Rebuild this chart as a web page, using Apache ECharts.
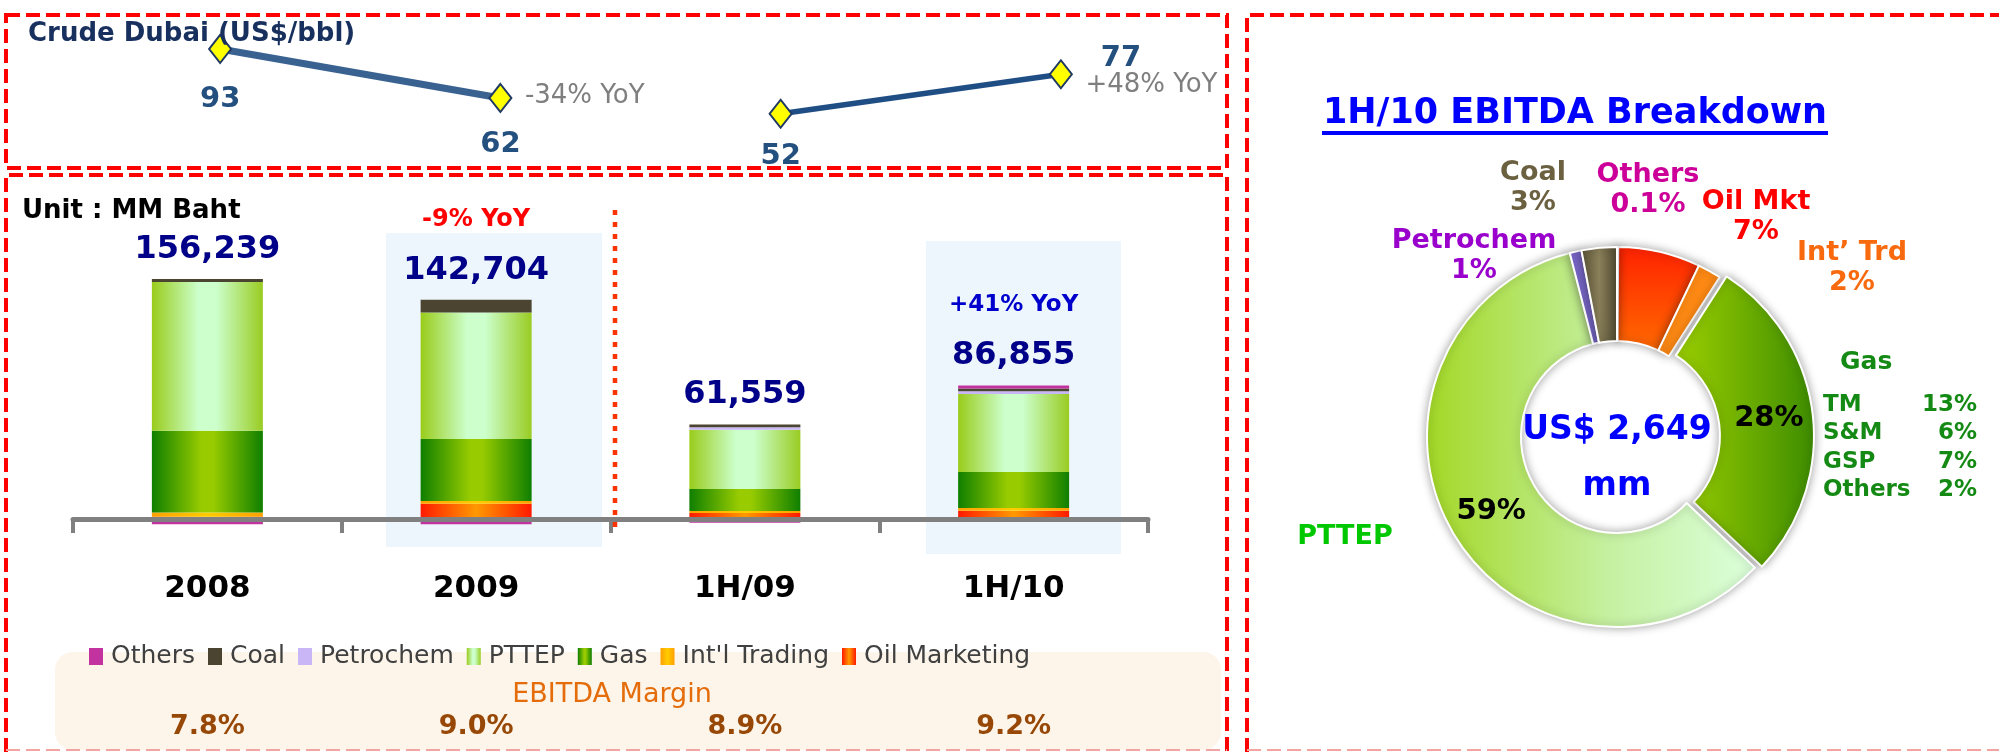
<!DOCTYPE html>
<html><head><meta charset="utf-8">
<script src="https://cdn.jsdelivr.net/npm/echarts@6/dist/echarts.min.js"></script>
<style>html,body{margin:0;padding:0;background:#fff}#c{width:1999px;height:752px}</style>
</head><body><div id="c"></div>
<script>
// ---------- DATA ----------
const categories = ['2008', '2009', '1H/09', '1H/10'];
const oilMarketing = [1500, 9960, 3959, 5400];
const intlTrading = [2800, 1750, 1300, 1750];
const gasEbitda = [53200, 40360, 14300, 23440];
const pttepEbitda = [96800, 82384, 38600, 50815];
const petrochem = [0, 0, 1500, 1750];
const coal = [1939, 8250, 1900, 1750];
const othersEbitda = [-3500, -3500, -2500, 1950];
const totals = [156239, 142704, 61559, 86855];
const totalYoY = ['', '-9% YoY', '', '+41% YoY'];
const ebitdaMargin = ['7.8%', '9.0%', '8.9%', '9.2%'];
const crudeDubai = [93, 62, 52, 77];
const crudeYoY = ['', '-34% YoY', '', '+48% YoY'];
const pieNames = ['Others', 'Oil Mkt', 'Int\u2019 Trd', 'Gas', 'PTTEP', 'Petrochem', 'Coal'];
const pieValues = [0.1, 7, 2, 28, 59, 1, 3];
const pieTotalText = 'US$ 2,649';
const pieTotalUnit = 'mm';
const gasSubNames = ['TM', 'S&M', 'GSP', 'Others'];
const gasSubValues = [13, 6, 7, 2];

// ---------- STYLE ----------
const F = 'DejaVu Sans';
function grad(dir, stops) {
  return { type: 'linear', x: 0, y: 0, x2: dir === 'h' ? 1 : 0, y2: dir === 'h' ? 0 : 1,
    colorStops: stops.map(s => ({ offset: s[0], color: s[1] })) };
}
const barDefs = [
  { name: 'Oil Marketing', data: oilMarketing, color: grad('h', [[0, '#ff1a00'], [0.5, '#ff9900'], [1, '#ff1a00']]) },
  { name: "Int'l Trading", data: intlTrading, color: grad('h', [[0, '#ffa000'], [0.5, '#ffcc00'], [1, '#ffa000']]) },
  { name: 'Gas', data: gasEbitda, color: grad('h', [[0, '#0f7f00'], [0.45, '#99cc00'], [0.55, '#99cc00'], [1, '#0f7f00']]) },
  { name: 'PTTEP', data: pttepEbitda, color: grad('h', [[0, '#99cc1a'], [0.42, '#ccffcc'], [0.58, '#ccffcc'], [1, '#99cc22']]) },
  { name: 'Petrochem', data: petrochem, color: '#c9b6f7' },
  { name: 'Coal', data: coal, color: '#4b4430' },
  { name: 'Others', data: othersEbitda, color: '#c2339f' }
];
const legendOrder = ['Others', 'Coal', 'Petrochem', 'PTTEP', 'Gas', "Int'l Trading", 'Oil Marketing'];

const crudeLabelStyle = [
  { position: 'bottom', distance: 21 },
  { position: 'bottom', distance: 17 },
  { position: 'bottom', distance: 13 },
  { position: 'right', distance: 28, offset: [0, -16] }
];
const crudeYoYOffset = [[0, 0], [0, -2], [0, 0], [0, 11]];

const pieColors = [
  '#cc3399',
  grad('v', [[0, '#ff2200'], [1, '#ff6a00']]),
  '#ff8a14',
  grad('h', [[0, '#9ccf00'], [1, '#3d8c00']]),
  grad('h', [[0, '#a3d826'], [0.55, '#c5f0a0'], [1, '#dcffdc']]),
  '#7d6bd0',
  grad('h', [[0, '#5a5236'], [0.5, '#8a805a'], [1, '#4e4830']])
];
const pieLabelColors = ['#cc0099', '#ff0000', '#f86a0d', '#148a14', '#00c800', '#9900cc', '#6b6040'];
const pieLabelPos = [[1648, 190], [1756, 217], [1852, 268], [1823, 419, 'left'], [1345, 537], [1474, 256], [1533, 188]];
const pieInsideLabel = { 'Gas': { show: true, offset: [8, -32] }, 'PTTEP': { show: true } };

// ---------- CHART ----------
const chart = echarts.init(document.getElementById('c'), null, { renderer: 'canvas' });

const series = [];
barDefs.forEach(d => series.push({
  name: d.name, type: 'bar', stack: 'ebitda', xAxisIndex: 0, yAxisIndex: 0,
  barWidth: 111, data: d.data, itemStyle: { color: d.color }, z: 2, silent: true
}));
series.push({
  type: 'scatter', xAxisIndex: 0, yAxisIndex: 0, data: totals, symbolSize: 1,
  itemStyle: { color: 'rgba(255,255,255,0)', opacity: 1 }, silent: true, z: 6,
  label: {
    show: true, position: 'top', distance: 9, color: '#000088', textBorderWidth: 0,
    formatter: p => {
      const y = totalYoY[p.dataIndex];
      const head = y ? '{' + (y[0] === '-' ? 'neg' : 'pos') + '|' + y + '}\n' : '';
      return head + '{tot|' + p.value.toLocaleString('en-US') + '}';
    },
    rich: {
      tot: { fontFamily: F, fontSize: 32, fontWeight: 'bold', color: '#000088', lineHeight: 40, textBorderWidth: 0 },
      neg: { fontFamily: F, fontSize: 24, fontWeight: 'bold', color: '#ff0000', lineHeight: 62, textBorderWidth: 0 },
      pos: { fontFamily: F, fontSize: 23, fontWeight: 'bold', color: '#0000cc', lineHeight: 62, textBorderWidth: 0 }
    }
  }
});
// crude line (two separate segments)
const crudeLine = (keep, color, width) => ({
  type: 'line', xAxisIndex: 2, yAxisIndex: 1, silent: true, z: 5,
  data: crudeDubai.map((v, i) => keep(i) ? { value: v, label: crudeLabelStyle[i] } : '-'),
  symbol: 'diamond', symbolSize: [22, 28],
  itemStyle: { color: '#ffff00', borderColor: '#1f3864', borderWidth: 2 },
  lineStyle: { color: color, width: width },
  label: { show: true, fontFamily: F, fontSize: 29, fontWeight: 'bold', color: '#24507f' }
});
series.push(crudeLine(i => i < 2, '#3a6291', 7));
series.push(crudeLine(i => i >= 2, '#1f4e85', 5.5));
series.push({
  type: 'scatter', xAxisIndex: 2, yAxisIndex: 1, symbolSize: 1, silent: true, z: 6,
  itemStyle: { color: 'rgba(255,255,255,0)', opacity: 1 },
  data: crudeDubai.map((v, i) => crudeYoY[i] ? { value: v, label: { offset: crudeYoYOffset[i] } } : '-'),
  label: { show: true, position: 'right', distance: 24, formatter: p => crudeYoY[p.dataIndex],
    fontFamily: F, fontSize: 26, color: '#7f7f7f' }
});
// pie (slices + inside labels)
series.push({
  type: 'pie', center: [1617, 437], radius: [96, 190], startAngle: 90, clockwise: true,
  avoidLabelOverlap: false, selectedMode: 'single', selectedOffset: 7, silent: true, z: 3,
  data: pieNames.map((n, i) => ({
    name: n, value: pieValues[i], selected: n === 'Gas',
    itemStyle: { color: pieColors[i] },
    label: pieInsideLabel[n] || { show: false }
  })),
  label: { show: false, position: 'inside', formatter: p => p.value + '%',
    fontFamily: F, fontSize: 29, fontWeight: 'bold', color: '#000' },
  labelLine: { show: false },
  itemStyle: { borderColor: '#ffffff', borderWidth: 2, shadowBlur: 10, shadowColor: 'rgba(0,0,0,0.35)' },
  emphasis: { disabled: true }
});
// pie outer labels
series.push({
  type: 'pie', center: [1617, 437], radius: [96, 190], startAngle: 90, clockwise: true,
  avoidLabelOverlap: false, silent: true, z: 4,
  data: pieNames.map((n, i) => ({ name: n, value: pieValues[i], label: { color: pieLabelColors[i] } })),
  itemStyle: { color: 'rgba(0,0,0,0)' },
  label: {
    show: true, position: 'outside', fontFamily: F, fontSize: 27, fontWeight: 'bold', lineHeight: 30,
    formatter: p => {
      if (p.name === 'PTTEP') return p.name;
      if (p.name === 'Gas') {
        return '{g|Gas}\n' + gasSubNames.map((s, k) => '{n|' + s + '}{v|' + gasSubValues[k] + '%}').join('\n');
      }
      return p.name + '\n' + p.value + '%';
    },
    rich: {
      g: { fontFamily: F, fontSize: 25, fontWeight: 'bold', color: '#148a14', lineHeight: 57, padding: [0, 0, 0, 17] },
      n: { fontFamily: F, fontSize: 23, fontWeight: 'bold', color: '#148a14', lineHeight: 28.5, width: 100, align: 'left' },
      v: { fontFamily: F, fontSize: 23, fontWeight: 'bold', color: '#148a14', lineHeight: 28.5, width: 54, align: 'right' }
    }
  },
  labelLine: { show: false },
  labelLayout: params => {
    const p = pieLabelPos[params.dataIndex];
    return { x: p[0], y: p[1], align: p[2] || 'center', verticalAlign: 'middle' };
  },
  emphasis: { disabled: true }
});

const dashRed = { stroke: '#ff0000', lineWidth: 4, lineDash: [14, 6], fill: null };
const paleBottom = { stroke: '#f4a3a3', lineWidth: 2, lineDash: [14, 6], fill: null };
const txt = (x, y, text, size, color, weight, align) => ({
  type: 'text', x: x, y: y, z: 20,
  style: { text: text, fontFamily: F, fontSize: size, fontWeight: weight || 'normal', fill: color,
    align: align || 'left', verticalAlign: 'middle' }
});

chart.setOption({
  animation: false,
  backgroundColor: '#ffffff',
  grid: [
    { left: 73, width: 1075, top: 242.5, height: 307.2, outerBoundsMode: 'none' },
    { left: 80, width: 1121, top: 37.9, height: 94.8, outerBoundsMode: 'none' }
  ],
  xAxis: [
    { type: 'category', gridIndex: 0, data: categories, z: 4,
      axisLine: { onZero: true, lineStyle: { color: '#808080', width: 5 } },
      axisTick: { show: true, length: 14, lineStyle: { color: '#808080', width: 4 } },
      axisLabel: { margin: 24, interval: 0, fontFamily: F, fontSize: 31, fontWeight: 'bold', color: '#000' } },
    { type: 'category', gridIndex: 0, data: ebitdaMargin, position: 'bottom',
      axisLine: { show: false, onZero: false }, axisTick: { show: false },
      axisLabel: { margin: 164, interval: 0, fontFamily: F, fontSize: 27, fontWeight: 'bold', color: '#984806' } },
    { type: 'category', gridIndex: 1, data: categories, show: false }
  ],
  yAxis: [
    { type: 'value', gridIndex: 0, min: -20000, max: 180000, show: false, splitLine: { show: false } },
    { type: 'value', gridIndex: 1, min: 40, max: 100, show: false, splitLine: { show: false } }
  ],
  legend: {
    data: legendOrder, left: 89, top: 644, padding: 0, itemWidth: 14, itemHeight: 17, itemGap: 13,
    icon: 'rect', selectedMode: false, z: 8,
    textStyle: { fontFamily: F, fontSize: 25, color: '#404040', padding: [0, 0, 0, 3] }
  },
  graphic: [
    { type: 'rect', z: 0, shape: { x: 386, y: 233, width: 216, height: 314 }, style: { fill: '#eef6fd' } },
    { type: 'rect', z: 0, shape: { x: 926, y: 241, width: 195, height: 313 }, style: { fill: '#eef6fd' } },
    { type: 'rect', z: 0, shape: { x: 55, y: 652, width: 1166, height: 98, r: 18 }, style: { fill: '#fdf5e9' } },
    { type: 'rect', z: 10, shape: { x: 6, y: 15, width: 1221, height: 153 }, style: dashRed },
    { type: 'polyline', z: 10, shape: { points: [[6, 752], [6, 175], [1227, 175], [1227, 752]] }, style: dashRed },
    { type: 'polyline', z: 10, shape: { points: [[6, 750], [1227, 750]] }, style: paleBottom },
    { type: 'polyline', z: 10, shape: { points: [[1247, 752], [1247, 15], [2010, 15]] }, style: dashRed },
    { type: 'polyline', z: 10, shape: { points: [[1247, 750], [1999, 750]] }, style: paleBottom },
    { type: 'polyline', z: 10, shape: { points: [[615, 210], [615, 528]] },
      style: { stroke: '#ff3300', lineWidth: 4.5, lineDash: [5, 7], fill: null } },
    { type: 'rect', z: 10, shape: { x: 1322, y: 131, width: 506, height: 4 }, style: { fill: '#0000ff' } },
    txt(28, 34, 'Crude Dubai (US$/bbl)', 26, '#17305e', 'bold'),
    txt(22, 211, 'Unit : MM Baht', 26, '#000000', 'bold'),
    txt(612, 695, 'EBITDA Margin', 27, '#e46c0a', 'normal', 'center'),
    txt(1575, 114, '1H/10 EBITDA Breakdown', 35, '#0000ff', 'bold', 'center'),
    txt(1617, 430, pieTotalText, 33, '#0000ff', 'bold', 'center'),
    txt(1617, 486, pieTotalUnit, 33, '#0000ff', 'bold', 'center')
  ],
  series: series
});
</script></body></html>
